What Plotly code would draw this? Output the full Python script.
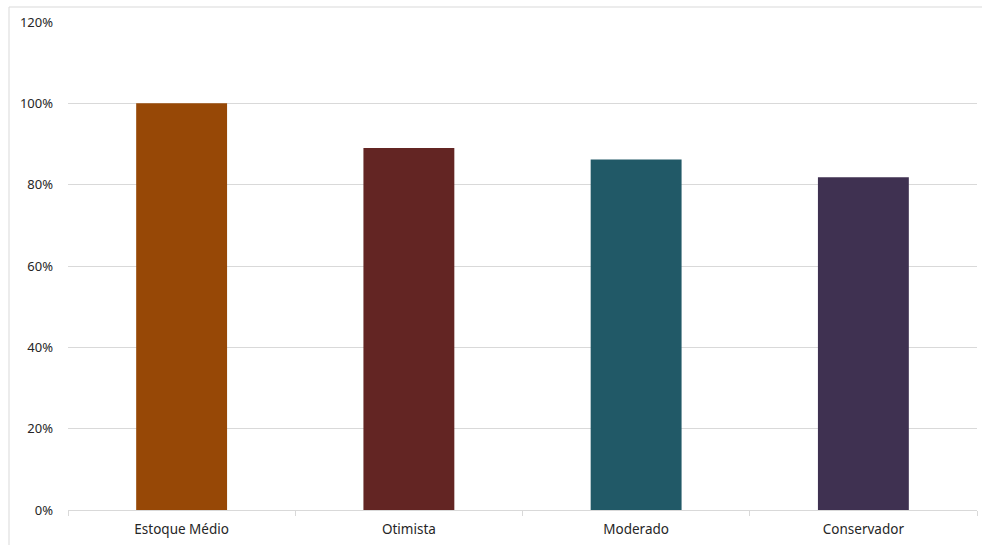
import plotly.graph_objects as go

# Scenario comparison against average stock
categories = ["Estoque Médio", "Otimista", "Moderado", "Conservador"]
values = [1.00, 0.89, 0.862, 0.818]
colors = ["#974806", "#632523", "#215967", "#3F3151"]
y_ticks = [0, 0.2, 0.4, 0.6, 0.8, 1.0, 1.2]
y_tick_labels = ["0%", "20%", "40%", "60%", "80%", "100%", "120%"]

fig = go.Figure(
    go.Bar(
        x=categories,
        y=values,
        marker=dict(color=colors, line=dict(width=0)),
        hovertemplate="%{x}: %{y:.0%}<extra></extra>",
    )
)

W, H = 982, 545
ml, mr, mt, mb = 68, 5, 22, 35
pw, ph = W - ml - mr, H - mt - mb

# outer chart-area frame (left and top edges visible)
fx = (9 - ml) / pw
fy = (H - mb - 7) / ph
fig.add_shape(type="line", xref="paper", yref="paper", x0=fx, x1=fx, y0=-0.2, y1=fy,
              line=dict(color="#d9d9d9", width=1))
fig.add_shape(type="line", xref="paper", yref="paper", x0=fx, x1=1.2, y0=fy, y1=fy,
              line=dict(color="#d9d9d9", width=1))

fig.update_layout(
    width=W,
    height=H,
    margin=dict(l=ml, r=mr, t=mt, b=mb),
    paper_bgcolor="white",
    plot_bgcolor="white",
    bargap=0.6,
    showlegend=False,
    font=dict(family="Noto Sans, Liberation Sans, sans-serif", size=12, color="#262626"),
)
fig.update_xaxes(
    showline=True,
    linecolor="#d9d9d9",
    linewidth=1,
    ticks="outside",
    tickson="boundaries",
    ticklen=5,
    tickcolor="#d9d9d9",
    showgrid=False,
    ticklabelstandoff=7,
    tickfont=dict(size=13.5, color="#262626"),
)
fig.update_yaxes(
    range=[0, 1.2],
    tickvals=y_ticks,
    ticktext=y_tick_labels,
    showgrid=True,
    gridcolor="#d9d9d9",
    gridwidth=1,
    zeroline=False,
    showline=False,
    ticks="",
    ticklabelstandoff=14,
    tickfont=dict(size=13, color="#262626"),
)

fig.write_html("out.html")
